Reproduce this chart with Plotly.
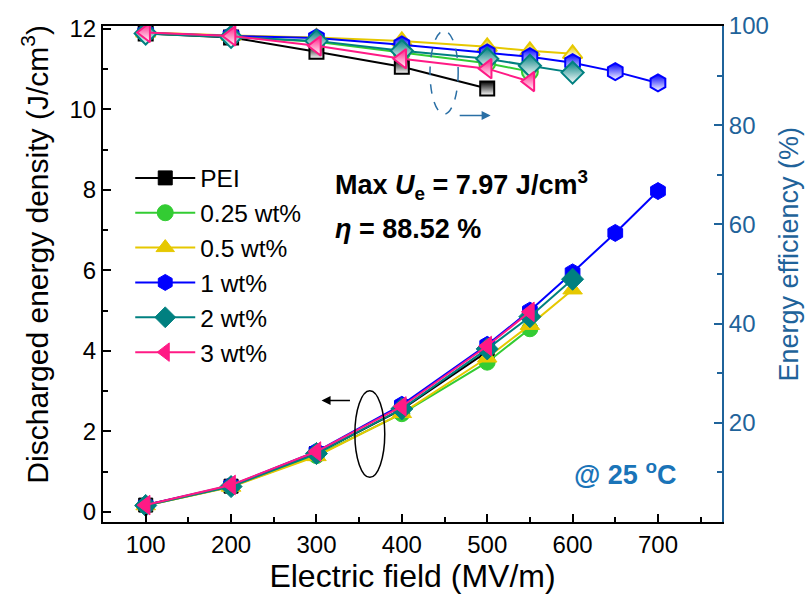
import plotly.graph_objects as go

# ---------------- data ----------------
field_pei = [100, 200, 300, 400, 500]
ud_pei = [0.17, 0.64, 1.45, 2.55, 3.98]
eta_pei = [98.5, 97.7, 94.8, 91.8, 87.4]

field_025 = [100, 200, 300, 400, 500, 550]
ud_025 = [0.16, 0.63, 1.40, 2.44, 3.72, 4.55]
eta_025 = [98.5, 97.9, 96.8, 94.6, 92.5, 90.8]

field_05 = [100, 200, 300, 400, 500, 550, 600]
ud_05 = [0.16, 0.62, 1.38, 2.45, 3.83, 4.64, 5.52]
eta_05 = [98.7, 98.1, 97.7, 97.0, 95.8, 95.0, 94.4]

field_1 = [100, 200, 300, 400, 500, 550, 600, 650, 700]
ud_1 = [0.17, 0.66, 1.50, 2.66, 4.15, 5.00, 5.95, 6.93, 7.97]
eta_1 = [98.6, 98.0, 97.6, 96.2, 94.6, 93.8, 92.6, 90.8, 88.52]

field_2 = [100, 200, 300, 400, 500, 550, 600]
ud_2 = [0.16, 0.63, 1.45, 2.56, 4.05, 4.85, 5.78]
eta_2 = [98.5, 97.8, 97.0, 95.0, 93.4, 92.0, 90.6]

field_3 = [100, 200, 300, 400, 500, 550]
ud_3 = [0.17, 0.67, 1.50, 2.62, 4.12, 4.97]
eta_3 = [98.7, 98.0, 96.0, 93.4, 91.4, 88.8]

names = ["PEI", "0.25 wt%", "0.5 wt%", "1 wt%", "2 wt%", "3 wt%"]
colors = ["#000000", "#33CC33", "#E6C800", "#0000FF", "#008080", "#FF1A85"]
symbols = ["square", "circle", "triangle-up", "hexagon", "diamond", "triangle-left"]
sizes = [14, 16, 17, 17, 17, 17]
fields = [field_pei, field_025, field_05, field_1, field_2, field_3]
uds = [ud_pei, ud_025, ud_05, ud_1, ud_2, ud_3]
etas = [eta_pei, eta_025, eta_05, eta_1, eta_2, eta_3]

FONT = "Liberation Sans, Arial, sans-serif"
AX_BLUE = "#1F639A"
TXT_BLUE = "#1A74B8"

fig = go.Figure()

for n, c, s, sz, f, u in zip(names, colors, symbols, sizes, fields, uds):
    fig.add_trace(go.Scatter(
        x=f, y=u, name=n, mode="lines+markers",
        line=dict(color=c, width=2),
        marker=dict(symbol=s, size=sz, color=c, line=dict(color=c, width=1)),
        yaxis="y",
    ))

for n, c, s, sz, f, e in zip(names, colors, symbols, sizes, fields, etas):
    fig.add_trace(go.Scatter(
        x=f, y=e, name=n, mode="lines+markers", showlegend=False,
        line=dict(color=c, width=2),
        marker=dict(symbol=s, size=sz, color=c,
                    gradient=dict(type="vertical", color="white"),
                    line=dict(color=c, width=2)),
        yaxis="y2",
    ))

fig.update_layout(
    width=810, height=597,
    margin=dict(l=103, r=88, t=23, b=75),
    paper_bgcolor="white", plot_bgcolor="white",
    font=dict(family=FONT, size=24, color="black"),
    showlegend=True,
    legend=dict(x=0.044, y=0.739, xanchor="left", yanchor="top",
                bgcolor="rgba(0,0,0,0)", font=dict(size=24.5),
                itemwidth=60, tracegroupgap=0),
    xaxis=dict(range=[50, 775], tickvals=[100, 200, 300, 400, 500, 600, 700],
               ticks="inside", ticklen=8, tickwidth=1.5, tickcolor="black",
               minor=dict(dtick=50, tick0=0, ticks="inside", ticklen=5, tickwidth=1.5, tickcolor="black"),
               showline=True, linecolor="black", linewidth=2, mirror=True,
               showgrid=False, zeroline=False,
               tickfont=dict(size=24),
               title=dict(text="Electric field (MV/m)", font=dict(size=32), standoff=5)),
    yaxis=dict(range=[-0.25, 12.07], tickvals=[0, 2, 4, 6, 8, 10, 12],
               ticks="inside", ticklen=8, tickwidth=1.5, tickcolor="black",
               minor=dict(dtick=1, tick0=0, ticks="inside", ticklen=5, tickwidth=1.5, tickcolor="black"),
               showline=True, linecolor="black", linewidth=2,
               showgrid=False, zeroline=False,
               tickfont=dict(size=24)),
    yaxis2=dict(range=[0, 100], tickvals=[20, 40, 60, 80, 100], overlaying="y", side="right",
                ticks="inside", ticklen=8, tickwidth=1.5, tickcolor=AX_BLUE,
                minor=dict(dtick=10, tick0=0, ticks="inside", ticklen=5, tickwidth=1.5, tickcolor=AX_BLUE),
                showline=True, linecolor=AX_BLUE, linewidth=2,
                showgrid=False, zeroline=False,
                tickfont=dict(size=24, color=AX_BLUE)),
)

# axis titles placed as rotated text
fig.add_annotation(x=-0.1099, y=0.541, xref="paper", yref="paper", xanchor="center", yanchor="middle",
                   text="Discharged energy density (J/cm<sup>3</sup>)", textangle=-90, showarrow=False,
                   font=dict(size=30, color="black"))
fig.add_annotation(x=1.108, y=0.541, xref="paper", yref="paper", xanchor="center", yanchor="middle",
                   text="Energy efficiency (%)", textangle=-90, showarrow=False,
                   font=dict(size=27, color=AX_BLUE))

# decorative ellipses
fig.add_shape(type="circle", xref="x", yref="y", x0=345, x1=380, y0=0.86, y1=3.01,
              line=dict(color="black", width=1.5))
fig.add_shape(type="circle", xref="x", yref="y", x0=433, x1=466, y0=9.88, y1=11.95,
              line=dict(color="#2A6FA5", width=1.5, dash="dash"))

# arrows
fig.add_annotation(x=306, y=2.77, ax=341, ay=2.77, xref="x", yref="y", axref="x", ayref="y",
                   text="", showarrow=True, arrowhead=2, arrowsize=1.2, arrowwidth=1.5, arrowcolor="black")
fig.add_annotation(x=504, y=9.85, ax=466, ay=9.85, xref="x", yref="y", axref="x", ayref="y",
                   text="", showarrow=True, arrowhead=2, arrowsize=1.2, arrowwidth=1.5, arrowcolor="#2A6FA5")

# texts
fig.add_annotation(x=0.3716, y=0.679, xref="paper", yref="paper", xanchor="left", yanchor="middle",
                   text="<b>Max <i>U</i><sub>e</sub> = 7.97 J/cm<sup>3</sup></b>", showarrow=False,
                   font=dict(size=27, color="black"))
fig.add_annotation(x=0.3716, y=0.591, xref="paper", yref="paper", xanchor="left", yanchor="middle",
                   text="<b><i>η</i> = 88.52 %</b>", showarrow=False,
                   font=dict(size=27, color="black"))
fig.add_annotation(x=0.758, y=0.098, xref="paper", yref="paper", xanchor="left", yanchor="middle",
                   text="<b>@ 25 <sup>o</sup>C</b>", showarrow=False,
                   font=dict(size=27, color=TXT_BLUE))

fig.write_html("out.html")
